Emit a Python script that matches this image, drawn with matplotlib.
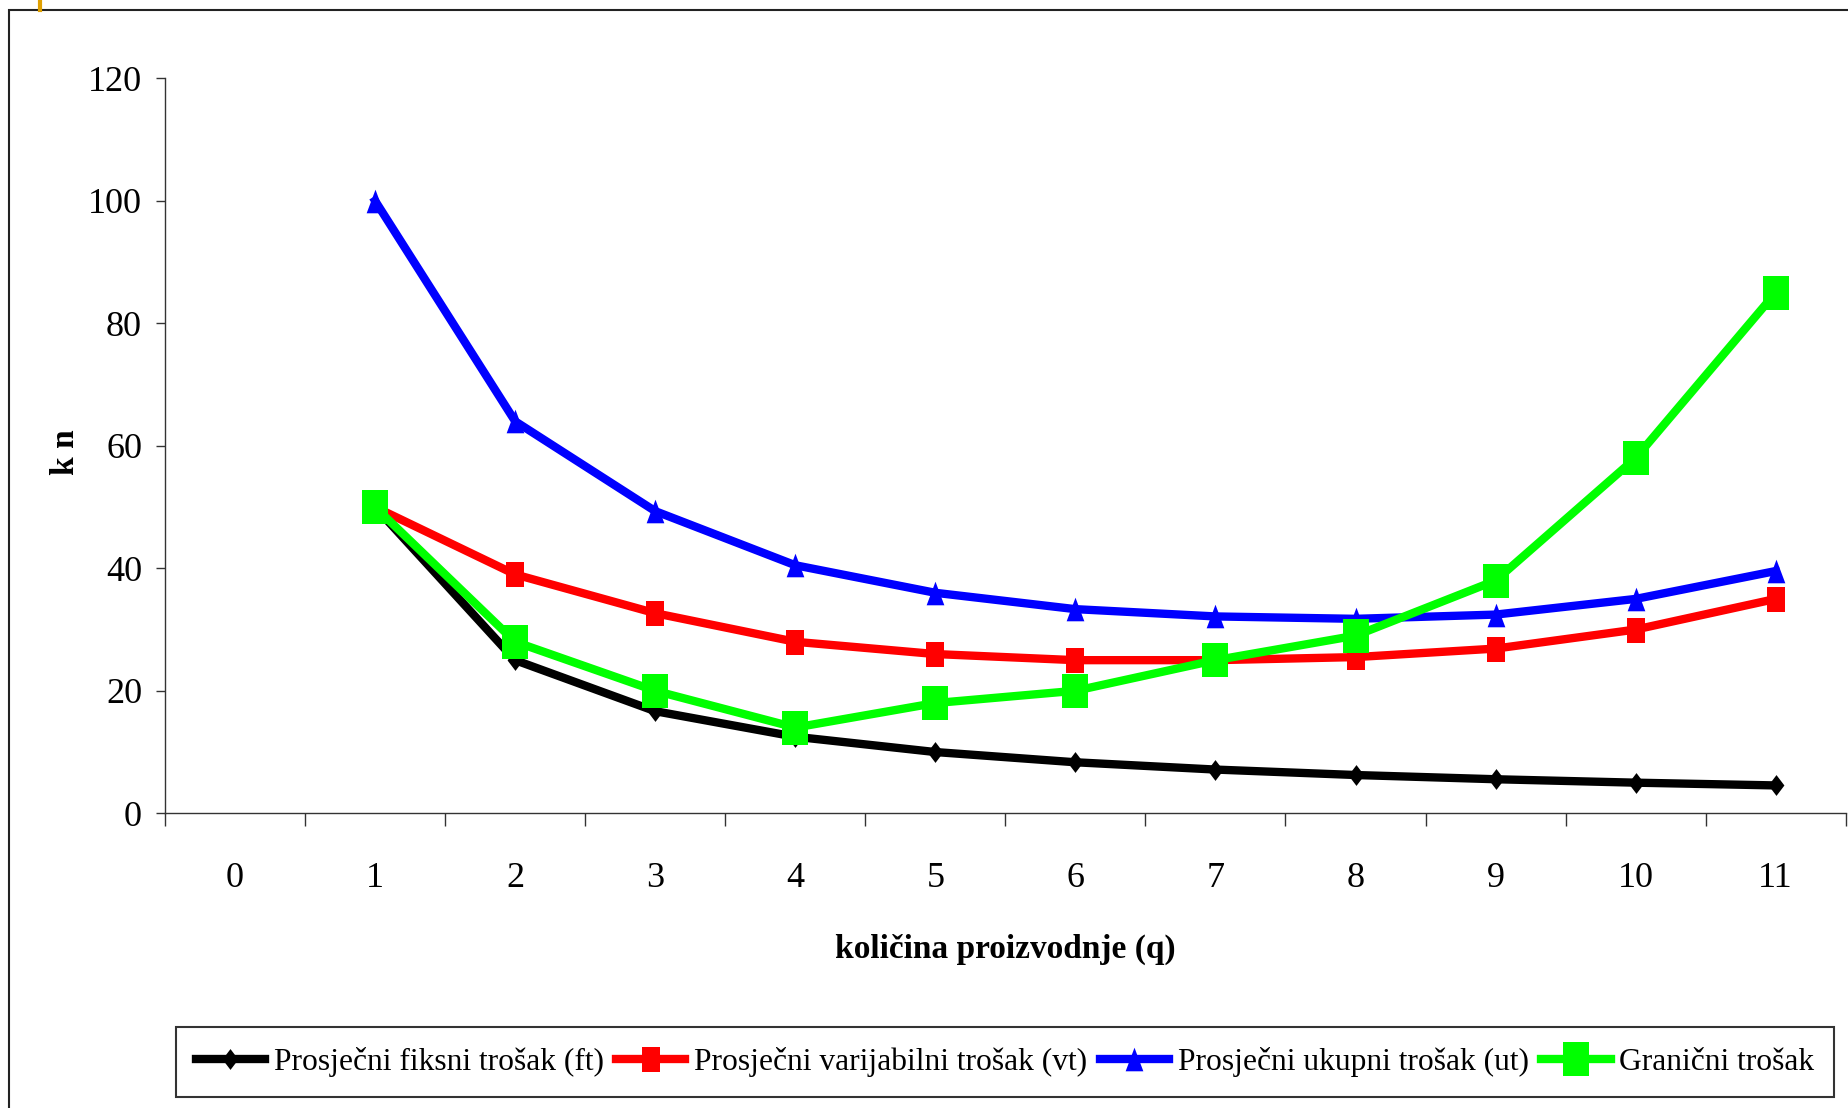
import numpy as np
import matplotlib
matplotlib.use("Agg")
import matplotlib.pyplot as plt
from matplotlib.path import Path
from matplotlib.lines import Line2D
from matplotlib.patches import Rectangle

plt.rcParams['font.family'] = ['Liberation Serif', 'DejaVu Serif']

# quantity produced (category 0 has no cost values)
q_labels = ['0', '1', '2', '3', '4', '5', '6', '7', '8', '9', '10', '11']

# average fixed, average variable, average total and marginal cost (kn)
ft = [np.nan, 50, 25, 16.67, 12.5, 10, 8.33, 7.14, 6.25, 5.56, 5, 4.55]
vt = [np.nan, 50, 39, 32.67, 28, 26, 25, 25, 25.5, 26.89, 30, 35]
ut = [np.nan, 100, 64, 49.33, 40.5, 36, 33.33, 32.14, 31.75, 32.44, 35, 39.55]
gt = [np.nan, 50, 28, 20, 14, 18, 20, 25, 29, 38, 58, 85]

series_names = ['Prosječni fiksni trošak (ft)', 'Prosječni varijabilni trošak (vt)',
                'Prosječni ukupni trošak (ut)', 'Granični trošak']


def rect_marker(aspect):
    # upright rectangle, width/height = aspect
    return Path([(-aspect, -1), (aspect, -1), (aspect, 1), (-aspect, 1), (-aspect, -1)],
                [Path.MOVETO, Path.LINETO, Path.LINETO, Path.LINETO, Path.CLOSEPOLY])


diamond = Path([(0, 1), (0.76, 0), (0, -1), (-0.76, 0), (0, 1)],
               [Path.MOVETO, Path.LINETO, Path.LINETO, Path.LINETO, Path.CLOSEPOLY])
triangle = Path([(-0.75, -1), (0.75, -1), (0, 1), (-0.75, -1)],
                [Path.MOVETO, Path.LINETO, Path.LINETO, Path.CLOSEPOLY])

fig = plt.figure(figsize=(18.48, 11.08), dpi=100)
ax = fig.add_axes([0.08929, 0.26598, 0.90947, 0.66336])

x = np.arange(len(q_labels))
lw = 6.0
ax.plot(x, ft, color='black', lw=lw, marker=diamond, ms=15, mew=0, label=series_names[0])
ax.plot(x, vt, color='#FF0000', lw=lw, marker=rect_marker(0.72), ms=18, mew=0, label=series_names[1])
ax.plot(x, ut, color='#0000FF', lw=lw, marker=triangle, ms=17, mew=0, label=series_names[2])
ax.plot(x, gt, color='#00FF00', lw=lw, marker=rect_marker(0.74), ms=25, mew=0, label=series_names[3])

ax.set_xlim(-0.5, len(q_labels) - 0.5)
ax.set_ylim(0, 120)
ax.set_yticks(np.arange(0, 121, 20))
ax.set_xticks(x)
ax.set_xticklabels(q_labels)
ax.set_xticks(np.arange(-0.5, len(q_labels)), minor=True)

for side in ['top', 'right']:
    ax.spines[side].set_visible(False)
for side in ['left', 'bottom']:
    ax.spines[side].set_color('#333333')
    ax.spines[side].set_linewidth(1.0)

ax.tick_params(axis='y', which='major', length=6.5, width=1.0, color='#333333',
               labelsize=26, pad=10)
ax.tick_params(axis='x', which='major', length=0, labelsize=26, pad=35)
ax.tick_params(axis='x', which='minor', length=9, width=1.0, color='#333333')

fig.text(0.5438, 1 - 949 / 1108, 'količina proizvodnje (q)', ha='center', va='center',
         fontsize=24, fontweight='bold')
fig.text(66 / 1848, 1 - 452 / 1108, 'k n', ha='center', va='center', rotation=90,
         fontsize=24, fontweight='bold')

leg = fig.legend(loc='center', bbox_to_anchor=(0.5438, 1 - 1062 / 1108), ncol=4,
                 fontsize=22.7, frameon=True, fancybox=False, edgecolor='black',
                 handlelength=2.2, handletextpad=0.27, columnspacing=0.4, borderpad=0.62)
leg.get_frame().set_linewidth(1.5)

# slide frame and accent mark
fig.patches.append(Rectangle((9 / 1848, -0.05), 1.1, 1 - 10 / 1108 + 0.05,
                             transform=fig.transFigure, fill=False,
                             edgecolor='#222222', linewidth=1.5))
fig.lines.append(Line2D([40 / 1848, 40 / 1848], [1, 1 - 10 / 1108],
                        transform=fig.transFigure, color='#E0A000', linewidth=3))

fig.savefig('out.png', dpi=100)
